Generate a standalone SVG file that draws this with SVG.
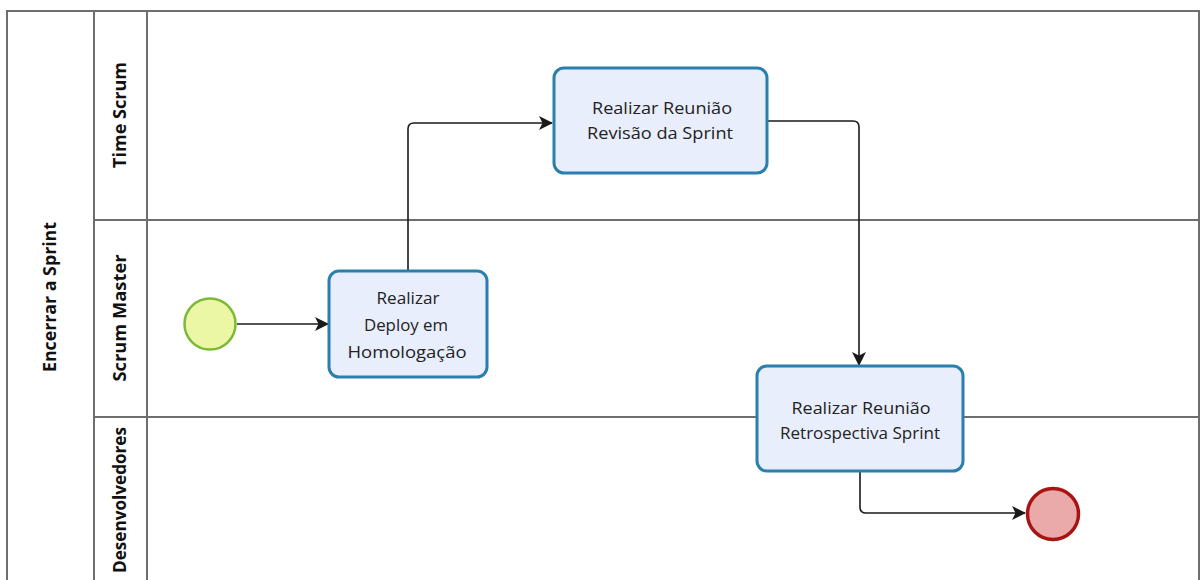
<svg xmlns="http://www.w3.org/2000/svg" width="1200" height="580" viewBox="0 0 1200 580">
  <style>
    .lane { fill: none; stroke: #6e6e6e; stroke-width: 2; }
    .hdr { font-family: "Open Sans", "DejaVu Sans", sans-serif; font-weight: bold; font-size: 17px; fill: #111; text-anchor: middle; }
    .task rect { fill: #e9eefc; stroke: #2a7fae; stroke-width: 3; }
    .task text { font-family: "Open Sans", "DejaVu Sans", sans-serif; font-size: 16.5px; fill: #222; text-anchor: middle; }
    .flow { fill: none; stroke: #1a1a1a; stroke-width: 1.6; marker-end: url(#arrow); }
  </style>
  <defs>
    <marker id="arrow" viewBox="0 0 14 14" refX="13" refY="7" markerWidth="14" markerHeight="14" markerUnits="userSpaceOnUse" orient="auto">
      <path d="M0,0 L14,7 L0,14 L3.5,7 z" fill="#1a1a1a"/>
    </marker>
  </defs>

  <rect width="1200" height="580" fill="#ffffff"/>

  <!-- pool and lanes -->
  <g id="pool">
    <path class="lane" d="M7,600 V11 H1199 V600"/>
    <line class="lane" x1="94" y1="11" x2="94" y2="600"/>
    <line class="lane" x1="147" y1="11" x2="147" y2="600"/>
    <line class="lane" x1="94" y1="220" x2="1199" y2="220"/>
    <line class="lane" x1="94" y1="417" x2="1199" y2="417"/>
    <text class="hdr" transform="translate(56,297) rotate(-90)" textLength="150" lengthAdjust="spacingAndGlyphs">Encerrar a Sprint</text>
  </g>
  <g id="lane-time-scrum">
    <text class="hdr" transform="translate(126,115) rotate(-90)" textLength="106" lengthAdjust="spacingAndGlyphs">Time Scrum</text>
  </g>
  <g id="lane-scrum-master">
    <text class="hdr" transform="translate(126,318) rotate(-90)" textLength="127" lengthAdjust="spacingAndGlyphs">Scrum Master</text>
  </g>
  <g id="lane-desenvolvedores">
    <text class="hdr" transform="translate(126,500) rotate(-90)" textLength="146" lengthAdjust="spacingAndGlyphs">Desenvolvedores</text>
  </g>

  <!-- sequence flows -->
  <g id="connectors">
    <path class="flow" d="M237,324 H328"/>
    <path class="flow" d="M408,270 V129 Q408,123 414,123 H552"/>
    <path class="flow" d="M768,121 H853 Q859,121 859,127 V365"/>
    <path class="flow" d="M860,472 V507 Q860,513 866,513 H1025"/>
  </g>

  <!-- events -->
  <g id="start">
    <circle cx="210" cy="324" r="25.5" fill="#ecf7a6" stroke="#7cb936" stroke-width="2.5"/>
  </g>
  <g id="end">
    <circle cx="1053" cy="514" r="25.5" fill="#ebaaaa" stroke="#a81414" stroke-width="3.5"/>
  </g>

  <!-- tasks -->
  <g id="task-deploy" class="task">
    <rect x="329" y="271" width="158" height="106" rx="10"/>
    <text x="408" y="304" textLength="63" lengthAdjust="spacingAndGlyphs">Realizar</text>
    <text x="406" y="331" textLength="84" lengthAdjust="spacingAndGlyphs">Deploy em</text>
    <text x="407" y="358" textLength="119" lengthAdjust="spacingAndGlyphs">Homologação</text>
  </g>
  <g id="task-revisao" class="task">
    <rect x="554" y="68" width="213" height="105" rx="10"/>
    <text x="662" y="114" textLength="140" lengthAdjust="spacingAndGlyphs">Realizar Reunião</text>
    <text x="660" y="139" textLength="146" lengthAdjust="spacingAndGlyphs">Revisão da Sprint</text>
  </g>
  <g id="task-retrospectiva" class="task">
    <rect x="757" y="366" width="206" height="105" rx="10"/>
    <text x="861" y="414" textLength="139" lengthAdjust="spacingAndGlyphs">Realizar Reunião</text>
    <text x="860" y="439" textLength="160" lengthAdjust="spacingAndGlyphs">Retrospectiva Sprint</text>
  </g>
</svg>
